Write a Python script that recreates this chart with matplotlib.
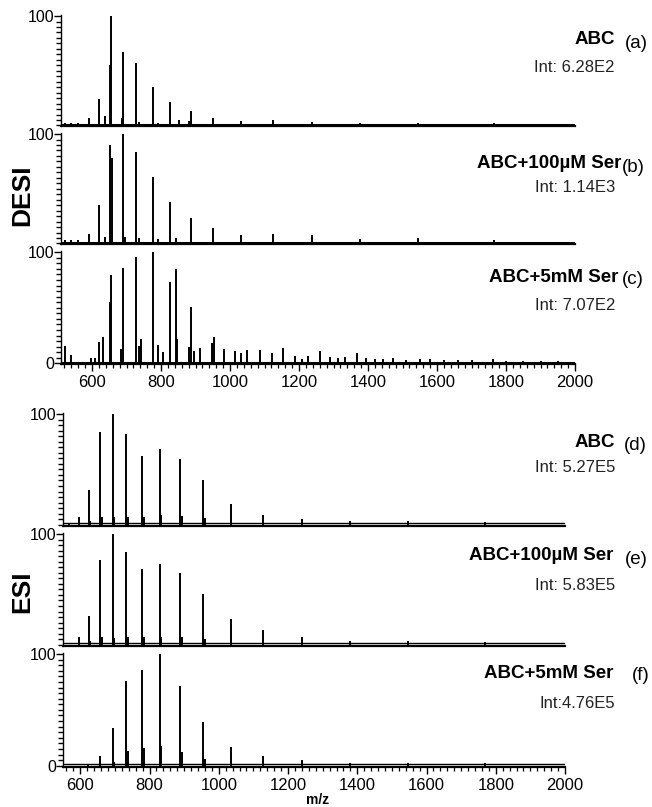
import matplotlib
matplotlib.use("Agg")
import matplotlib.pyplot as plt
from matplotlib.ticker import MultipleLocator, FixedLocator

plt.rcParams['font.family'] = ['Liberation Sans', 'DejaVu Sans']

# --- peak lists (m/z, relative intensity %) ---
desi_a_mz = [521, 538, 560, 592, 620, 638, 652, 656, 688, 691, 728, 735, 776, 790, 827, 852,
             880, 886, 952, 1033, 1125, 1238, 1377, 1545, 1765]
desi_a_int = [2, 2, 2, 7, 24, 9, 55, 100, 7, 67, 57, 3, 35, 2, 21, 5,
              4, 13.5, 7, 4.5, 5, 3, 2, 2, 2]

desi_b_mz = [521, 540, 560, 591, 620, 638, 652, 657, 690, 695, 728, 735, 776, 790, 827, 843,
             886, 952, 1033, 1125, 1238, 1377, 1545, 1765]
desi_b_int = [3, 3, 3, 9, 35, 6, 90, 78, 100, 6, 84, 5, 61, 4, 38, 5,
              23, 14, 8, 9, 8, 4, 5, 3]

desi_c_mz = [521, 538, 596, 608, 621, 632, 652, 656, 685, 690, 728, 736, 742, 776, 790, 807,
             827, 843, 846, 880, 886, 896, 913, 948, 953, 982, 1014, 1031, 1049, 1087,
             1121, 1154, 1188, 1208, 1226, 1261, 1290, 1313, 1333, 1367, 1394, 1420, 1443,
             1472, 1510, 1550, 1580, 1620, 1660, 1700, 1762, 1800, 1850, 1900, 1950]
desi_c_int = [16, 8, 5, 5, 19, 24, 55, 79, 13, 86, 96, 16, 22, 100, 17, 10,
              73, 85, 22, 15, 51, 11, 14, 18, 24, 13, 11, 9, 12, 12,
              9, 14, 7, 4, 7, 11, 6, 5, 6, 9, 5, 4, 4,
              5, 3, 4, 4, 3, 3, 3, 4, 2, 2, 2, 2]

esi_d_mz = [567, 596, 624, 628, 658, 662, 694, 698, 733, 737, 779, 783, 829, 833, 889, 893,
            955, 959, 1036, 1129, 1241, 1380, 1547, 1770]
esi_d_int = [1, 7, 31, 3, 84, 7, 100, 7, 82, 7, 62, 7, 68, 9, 59, 8,
             40, 6, 19, 9, 5, 3, 3, 2]

esi_e_mz = [596, 624, 628, 658, 662, 694, 698, 733, 737, 779, 783, 829, 833, 889, 893,
            955, 959, 1036, 1129, 1241, 1380, 1547, 1770]
esi_e_int = [6.5, 26, 3, 77, 7, 100, 6, 84, 7, 68, 7, 73, 7, 65, 7,
             46, 5, 23, 13, 6.5, 3, 3, 2]

esi_f_mz = [623, 658, 694, 698, 733, 737, 779, 783, 830, 834, 889, 893, 955, 959,
            1036, 1129, 1241, 1380, 1547, 1770]
esi_f_int = [1, 9, 34, 3, 76, 13, 86, 16, 100, 18, 71, 12, 39, 6,
             17, 9, 5, 2, 2, 2]

names = ['ABC', 'ABC+100\u00b5M Ser', 'ABC+5mM Ser', 'ABC', 'ABC+100\u00b5M Ser', 'ABC+5mM Ser']
letters = ['(a)', '(b)', '(c)', '(d)', '(e)', '(f)']
int_labels = ['Int: 6.28E2', 'Int: 1.14E3', 'Int: 7.07E2', 'Int: 5.27E5', 'Int: 5.83E5', 'Int:4.76E5']
xticks = [600, 800, 1000, 1200, 1400, 1600, 1800, 2000]

spectra = [(desi_a_mz, desi_a_int), (desi_b_mz, desi_b_int), (desi_c_mz, desi_c_int),
           (esi_d_mz, esi_d_int), (esi_e_mz, esi_e_int), (esi_f_mz, esi_f_int)]

W, H = 652, 807
fig = plt.figure(figsize=(W / 100, H / 100), dpi=100)

# panel boxes in pixels: left, top, right, bottom
boxes = [(61, 15, 575, 126), (61, 133, 575, 244), (61, 251, 575, 364),
         (63, 413, 565, 526), (63, 533, 565, 646), (63, 653, 565, 767)]
xmins = [510, 510, 510, 550, 550, 550]
# label centre heights in pixels (name, int line)
name_y = [40, 164, 277, 443, 556, 673]
int_y = [67, 188, 306, 467, 585, 703]
letter_x = [625, 622, 622, 624, 625, 632]
name_right = [615, 621, 618, 615, 613, 613]

for i, (mz, inten) in enumerate(spectra):
    l, t, r, b = boxes[i]
    ax = fig.add_axes([l / W, 1 - b / H, (r - l) / W, (b - t) / H])
    desi = i < 3
    ax.vlines(mz, 0, inten, color='black', lw=1.4)
    if desi:
        ax.axhline(0.8, color='black', lw=2.2)
        ax.set_ylim(-0.5, 101)
    else:
        ax.axhline(1.2, color='black', lw=1.0)
        ax.set_ylim(-1.2, 101)
    ax.set_xlim(xmins[i], 2000)
    for s in ['top', 'right']:
        ax.spines[s].set_visible(False)
    ax.spines['left'].set_linewidth(1.0)
    ax.spines['bottom'].set_linewidth(1.6)
    bottom_panel = i in (2, 5)
    ax.yaxis.set_major_locator(FixedLocator([0, 100] if bottom_panel else [100]))
    ax.yaxis.set_minor_locator(MultipleLocator(5))
    ax.tick_params(axis='y', which='major', direction='out', length=5, width=1.0,
                   labelsize=11.5, pad=0)
    ax.tick_params(axis='y', which='minor', direction='out', length=3.5, width=1.0)
    if bottom_panel:
        ax.set_xticks(xticks)
        ax.xaxis.set_minor_locator(MultipleLocator(20))
        ax.tick_params(axis='x', which='major', direction='out', length=5, width=1.0,
                       labelsize=12, pad=3)
        ax.tick_params(axis='x', which='minor', direction='out', length=3, width=0.9)
    else:
        ax.set_xticks([])
    ax.patch.set_alpha(0)

    fig.text(name_right[i] / W, 1 - name_y[i] / H, names[i], ha='right', va='center',
             fontsize=13.5, fontweight='bold')
    fig.text(letter_x[i] / W, 1 - (name_y[i] + 3) / H, letters[i], ha='left', va='center',
             fontsize=13.5)
    fig.text(615 / W, 1 - int_y[i] / H, int_labels[i], ha='right', va='center',
             fontsize=12, color='#222222')

fig.text(22 / W, 1 - 195 / H, 'DESI', rotation=90, ha='center', va='center',
         fontsize=19, fontweight='bold')
fig.text(22 / W, 1 - 592 / H, 'ESI', rotation=90, ha='center', va='center',
         fontsize=19, fontweight='bold')
fig.text(318 / W, 1 - 800 / H, 'm/z', ha='center', va='center', fontsize=10,
         fontweight='bold')

fig.savefig('out.png', dpi=100, facecolor='white')
